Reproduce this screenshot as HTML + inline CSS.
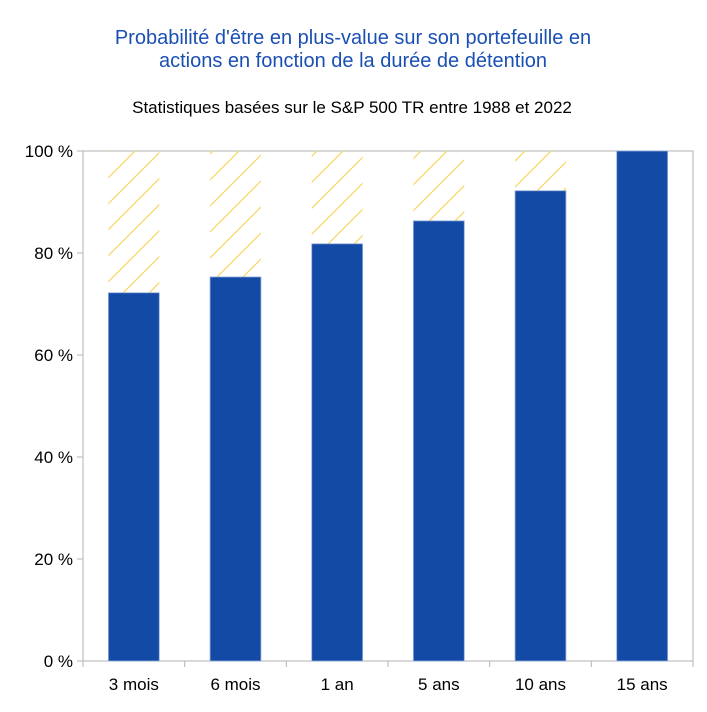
<!DOCTYPE html>
<html><head><meta charset="utf-8"><style>
body{margin:0;background:#fff;font-family:"Liberation Sans",sans-serif;}
</style></head><body>
<svg width="707" height="707" viewBox="0 0 707 707" xmlns="http://www.w3.org/2000/svg" font-family="Liberation Sans, sans-serif">
<defs><pattern id="hatch" patternUnits="userSpaceOnUse" width="26" height="26"><line x1="0" y1="26" x2="26" y2="0" stroke="#f7d560" stroke-width="1.2"/><line x1="-2" y1="2" x2="2" y2="-2" stroke="#f7d560" stroke-width="1.2"/><line x1="24" y1="28" x2="28" y2="24" stroke="#f7d560" stroke-width="1.2"/></pattern></defs>
<text x="353" y="44" text-anchor="middle" font-size="20" fill="#1a4fb3">Probabilité d'être en plus-value sur son portefeuille en</text>
<text x="353" y="67" text-anchor="middle" font-size="20" fill="#1a4fb3">actions en fonction de la durée de détention</text>
<text x="352" y="113" text-anchor="middle" font-size="17" fill="#000">Statistiques basées sur le S&amp;P 500 TR entre 1988 et 2022</text>
<g id="plot"></g>
</svg>
<script>
const categories=["3 mois","6 mois","1 an","5 ans","10 ans","15 ans"];
const values=[72.2,75.3,81.8,86.3,92.2,100];
const yTicks=[0,20,40,60,80,100];
const yTickLabels=["0 %","20 %","40 %","60 %","80 %","100 %"];
const L=83,R=693,T=151,B=661;
const ns="http://www.w3.org/2000/svg";
const g=document.getElementById('plot');
const bw=(R-L)/categories.length;
const y=v=>B-(v/100)*(B-T);
function mk(t,a){const e=document.createElementNS(ns,t);for(const k in a)e.setAttribute(k,a[k]);g.appendChild(e);return e;}
const frame=mk('rect',{x:L,y:T,width:R-L,height:B-T,fill:'none',stroke:'#b3b3b3','stroke-width':1});


yTicks.forEach((v,i)=>{
 const tk=mk('line',{x1:L-6,x2:L,y1:y(v),y2:y(v),stroke:'#b3b3b3'});
 
 
 const t=mk('text',{x:L-10,y:y(v)+6,'text-anchor':'end','font-size':17,fill:'#000'});
 t.textContent=yTickLabels[i];
 
 
});
categories.forEach((c,i)=>{
 const x0=L+i*bw, bx=x0+bw/4, w=bw/2;
 if(values[i]<100){
  const h=mk('rect',{x:bx,y:T,width:w,height:y(values[i])-T,fill:'url(#hatch)'});
  
  
 }
 const b=mk('rect',{x:bx,y:y(values[i]),width:w,height:B-y(values[i]),fill:'#134aa6',stroke:'#8fa8d8','stroke-width':0.8});
 
 
 const tk=mk('line',{x1:x0+bw,x2:x0+bw,y1:B,y2:B+6,stroke:'#b3b3b3'});
 
 
 const t=mk('text',{x:x0+bw/2,y:B+29,'text-anchor':'middle','font-size':17,fill:'#000'});
 t.textContent=c;
 
 
});
const t0=mk('line',{x1:L,x2:L,y1:B,y2:B+6,stroke:'#b3b3b3'});


</script>
</body></html>
